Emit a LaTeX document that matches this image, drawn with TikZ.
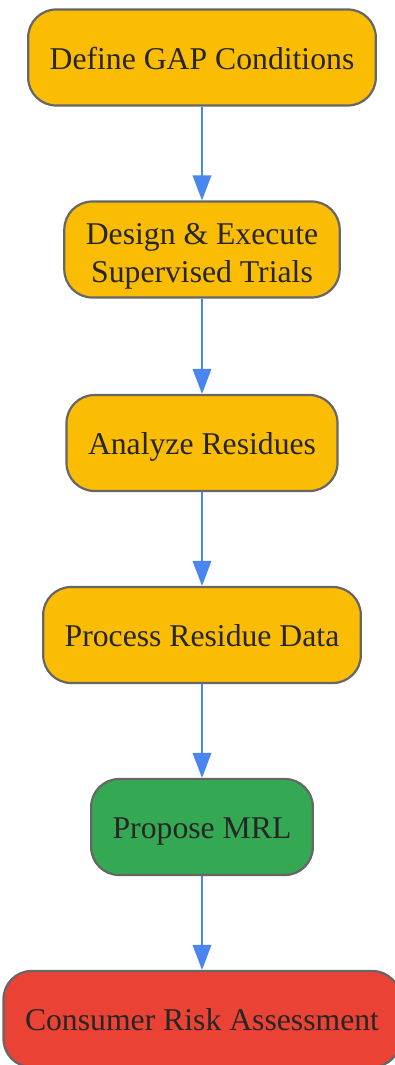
\documentclass[tikz,border=0pt]{standalone}
\usepackage{fontspec}
\setmainfont{Liberation Serif}
\usepackage{xcolor}
\usepackage{tikz}
\usetikzlibrary{shapes,positioning,arrows.meta}
\definecolor{stepyellow}{HTML}{FBBC04}
\definecolor{stepgreen}{HTML}{34A853}
\definecolor{stepred}{HTML}{EA4335}
\definecolor{stepborder}{HTML}{666666}
\definecolor{steptext}{HTML}{262626}
\definecolor{flowblue}{HTML}{4A86F0}
\tikzset{box/.style={rectangle,rounded corners=28pt,draw=stepborder,line width=2.2pt,
    minimum height=96pt,inner xsep=21.5pt,inner ysep=2pt,align=center,text=steptext,
    text height=24pt,text depth=0.5pt,font=\fontsize{31.7}{38}\selectfont},
  todo/.style={box,fill=stepyellow},
  done/.style={box,fill=stepgreen},
  risk/.style={box,fill=stepred},
  flow/.style={->,draw=flowblue,line width=2pt}}

\begin{document}
\begin{tikzpicture}[>={Triangle[length=25pt,width=18.5pt]},x=1pt,y=-1pt]
        \useasboundingbox (0,0) rectangle (394,1065);
        \node[todo] (gap) at (202,57.5) {Define GAP Conditions};
        \node[todo,text height=65pt,text depth=0pt] (trials) at (202,249.5) {Design \& Execute\\Supervised Trials};
        \node[todo] (analyze) at (202,443) {Analyze Residues};
        \node[todo] (process) at (202,635) {Process Residue Data};
        \node[done] (mrl) at (202,827) {Propose MRL};
        \node[risk] (consumer) at (202,1019) {Consumer Risk Assessment};

        \draw [flow] (gap) to (trials);
        \draw [flow] (trials) to (analyze);
        \draw [flow] (analyze) to (process);
        \draw [flow] (process) to (mrl);
        \draw [flow] (mrl) to (consumer);
    \end{tikzpicture}
\end{document}
